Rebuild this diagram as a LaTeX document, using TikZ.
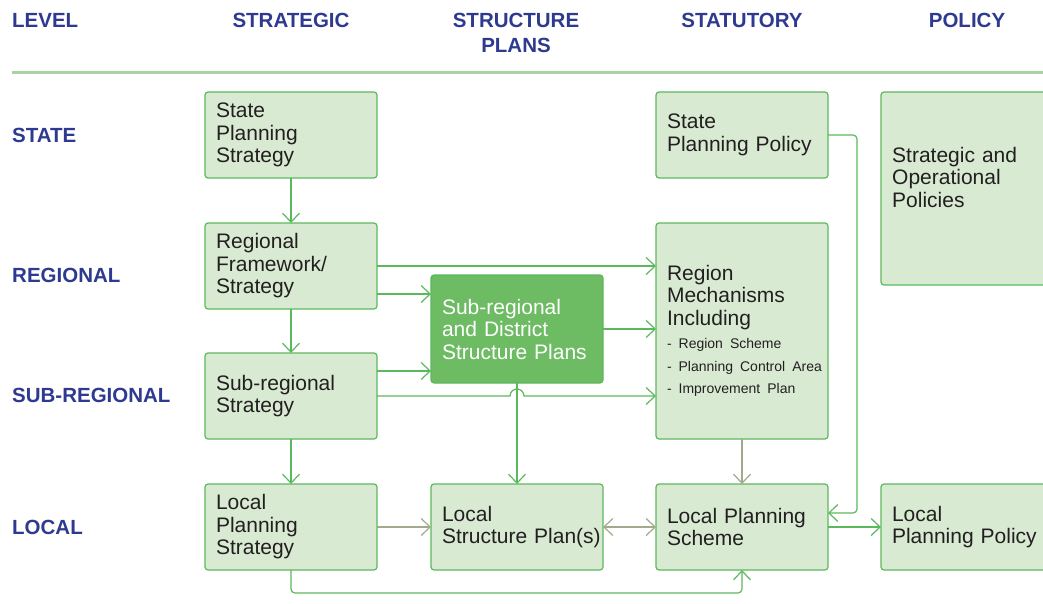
\documentclass[tikz,border=0pt]{standalone}
\usepackage{fontspec}
\setmainfont{Liberation Sans}
\usetikzlibrary{arrows.meta,positioning}
\definecolor{PlanGreen}{HTML}{5CB85C}
\definecolor{PlanLeaf}{HTML}{D9EAD3}
\definecolor{PlanFocus}{HTML}{6DBB63}
\definecolor{PlanRule}{HTML}{A9D49F}
\definecolor{PlanNavy}{HTML}{2E3A8F}
\definecolor{PlanInk}{HTML}{231F20}
\definecolor{PlanGrey}{HTML}{A4A88C}
\tikzset{
  plantext/.style={
    text=PlanInk,
    text width=150pt,
    align=left,
    font=\fontsize{21}{22.5}\selectfont
  },
  planbox/.style={
    plantext,
    draw=PlanGreen,
    fill=PlanLeaf,
    line width=1.2pt,
    rounded corners=3pt,
    inner xsep=11pt,
    outer sep=0pt,
    minimum height=86pt
  },
  planfocus/.style={
    planbox,
    fill=PlanFocus,
    text=white,
    minimum height=108pt
  },
  planhead/.style={text=PlanNavy,inner sep=0pt,font=\bfseries\fontsize{20.5}{25}\selectfont},
  planarrow/.style={-{Straight Barb[length=9pt,width=17pt]},line width=1.2pt,draw=PlanGreen},
  planlink/.style={planarrow,draw=PlanGrey}
}
\newcommand{\planitem}[1]{\mbox{\fontsize{14}{22.5}\selectfont - #1}}

\begin{document}
\begin{tikzpicture}[x=1pt,y=-1pt]
  \useasboundingbox (0,0) rectangle (1043,604);
  % column and row headings
  \node[planhead,anchor=west] (hlevel) at (12,20) {LEVEL};
  \node[planhead] (hstrat) at (291,20) {STRATEGIC};
  \node[planhead,align=center] (hstruct) at (516,32.5) {STRUCTURE\\PLANS};
  \node[planhead] (hstat) at (742,20) {STATUTORY};
  \node[planhead] (hpol) at (967,20) {POLICY};
  \draw[PlanRule,line width=3pt] (12,73) -- (1043,73);
  \node[planhead,anchor=west] (rstate) at (12,135) {STATE};
  \node[planhead,anchor=west] (rregion) at (12,275) {REGIONAL};
  \node[planhead,anchor=west] (rsub) at (12,395) {SUB-REGIONAL};
  \node[planhead,anchor=west] (rlocal) at (12,527) {LOCAL};

  % strategic column
  \node[planbox] (sps) at (291,135) {State\\Planning\\Strategy};
  \node[planbox,below=45pt of sps] (rfs) {Regional\\Framework/\\Strategy};
  \node[planbox,below=44pt of rfs] (srs) {Sub-regional\\Strategy};
  \node[planbox,below=45pt of srs] (lps) {Local\\Planning\\Strategy};
  % local row
  \node[planbox,right=54pt of lps] (lsp) {Local\\\mbox{Structure Plan(s)}};
  \node[planbox,right=53pt of lsp] (lpsch) {Local Planning\\Scheme};
  \node[planbox,right=53pt of lpsch] (lpp) {Local\\Planning Policy};
  % statutory column
  \node[planbox,above=45pt of lpsch,minimum height=216pt] (rm) {Region\\Mechanisms\\Including\\[1pt]
    \planitem{Region Scheme}\\\planitem{Planning Control Area}\\\planitem{Improvement Plan}};
  \node[planbox,above=45pt of rm] (spp) {State\\Planning Policy};
  % policy column
  \node[planbox,minimum height=193pt,anchor=north west] (sop) at (881,92) {};
  \node[plantext,inner sep=0pt,anchor=north west] (soptext) at ([xshift=11pt,yshift=-55pt]sop.north west) {Strategic and\\Operational\\Policies};
  % structure plans
  \node[planfocus] (sdsp) at (517,329) {Sub-regional\\and District\\Structure Plans};

  \coordinate (r2) at ([yshift=-28pt]rfs.east);
  \coordinate (s1) at ([yshift=25pt]srs.east);
  \coordinate (hop) at (srs.east -| sdsp.south);
  \coordinate (l1) at ([yshift=14pt]lpsch.east);

  \draw[planarrow] (sps) -- (rfs);
  \draw[planarrow] (rfs) -- (srs);
  \draw[planarrow] (srs) -- (lps);
  \draw[planarrow] (rfs.east) -- (rfs.east -| rm.west);
  \draw[planarrow] (r2) -- (r2 -| sdsp.west);
  \draw[planarrow] (s1) -- (s1 -| sdsp.west);
  \draw[planarrow] (sdsp.east) -- (sdsp.east -| rm.west);
  \draw[planarrow] (sdsp) -- (lsp);
  \draw[planarrow] (srs.east) -- ([xshift=-7pt]hop) arc[start angle=180,end angle=0,radius=7pt] -- (srs.east -| rm.west);
  \draw[planlink] (lps) -- (lsp);
  \draw[planlink,{Straight Barb[length=9pt,width=17pt]}-{Straight Barb[length=9pt,width=17pt]}] (lsp) -- (lpsch);
  \draw[planlink] (rm) -- (lpsch);
  \draw[planarrow,rounded corners=4pt] (spp.east) -- ++(29,0) |- (l1);
  \draw[planarrow] (lpsch) -- (lpp);
  \draw[planarrow,rounded corners=4pt] (lps.south) -- ++(0,23) -| (lpsch.south);
\end{tikzpicture}
\end{document}
